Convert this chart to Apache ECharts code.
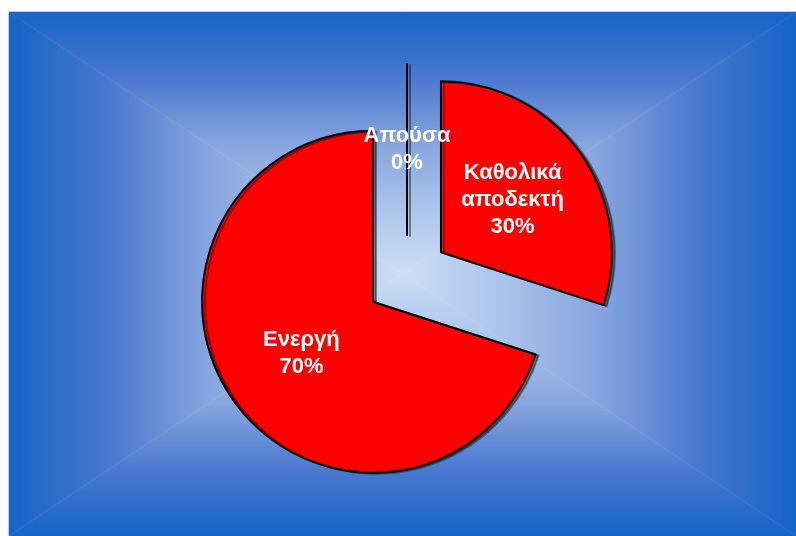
<!DOCTYPE html>
<html>
<head>
<meta charset="utf-8">
<script src="https://cdn.jsdelivr.net/npm/echarts@6/dist/echarts.min.js"></script>
<style>
  html, body { margin: 0; padding: 0; background: #ffffff; }
  #chart { width: 796px; height: 536px; }
</style>
</head>
<body>
<div id="chart"></div>
<script>
// Slice names and shares (percent)
var categories = ['Απούσα', 'Καθολικά\nαποδεκτή', 'Ενεργή'];
var values = [0, 30, 70];

var chart = echarts.init(document.getElementById('chart'), null, { renderer: 'canvas' });

// Backdrop: rectangular "path" gradient built from four triangles
var bx0 = 9, by0 = 12, bx1 = 796, by1 = 536;
var cx = (bx0 + bx1) / 2, cy = (by0 + by1) / 2;

function tri(points, x1, y1, x2, y2) {
  var fill = new echarts.graphic.LinearGradient(x1, y1, x2, y2, [
    { offset: 0, color: '#1565c8' },
    { offset: 0.25, color: '#4a78cf' },
    { offset: 0.5, color: '#86a4de' },
    { offset: 0.75, color: '#abc4ea' },
    { offset: 1, color: '#cbdef4' }
  ], true);
  return {
    type: 'polygon',
    silent: true,
    z: -10,
    shape: { points: points },
    style: { fill: fill, stroke: fill, lineWidth: 0.6 }
  };
}

var background = [
  tri([[bx0, by0], [bx1, by0], [cx, cy]], 0, by0, 0, cy),
  tri([[bx0, by1], [bx1, by1], [cx, cy]], 0, by1, 0, cy),
  tri([[bx0, by0], [bx0, by1], [cx, cy]], bx0, 0, cx, 0),
  tri([[bx1, by0], [bx1, by1], [cx, cy]], bx1, 0, cx, 0)
];

var data = categories.map(function (name, i) {
  return { name: name, value: values[i], selected: true };
});

var explode = 42;
var labelFont = 'bold 22px "Liberation Sans", Arial, sans-serif';

chart.setOption({
  animation: false,
  graphic: background,
  series: [{
    type: 'pie',
    center: [407, 277],
    radius: 171,
    startAngle: 90,
    clockwise: true,
    stillShowZeroSum: true,
    minAngle: 0,
    selectedMode: 'multiple',
    selectedOffset: explode,
    avoidLabelOverlap: false,
    data: data,
    itemStyle: {
      color: '#ff0000',
      borderColor: '#000000',
      borderWidth: 2,
      shadowColor: 'rgba(0,0,0,0.4)',
      shadowOffsetX: 3,
      shadowOffsetY: 1,
      shadowBlur: 0
    },
    select: {
      itemStyle: { color: '#ff0000', borderColor: '#000000', borderWidth: 2 }
    },
    emphasis: { disabled: true },
    label: {
      show: true,
      position: 'inside',
      formatter: function (p) { return p.name + '\n' + p.value + '%'; },
      color: '#ffffff',
      fontFamily: '"Liberation Sans", Arial, sans-serif',
      fontWeight: 'bold',
      fontSize: 22,
      lineHeight: 27,
      align: 'center'
    },
    labelLine: { show: false }
  }]
});

// ECharts skips inside labels of zero-value slices; place those from the pie's own layout
var pieData = chart.getModel().getSeriesByIndex(0).getData();
var extra = [];
pieData.each(function (idx) {
  if (pieData.get('value', idx) !== 0) return;
  var lay = pieData.getItemLayout(idx);
  var mid = (lay.startAngle + lay.endAngle) / 2;
  var dist = explode + (lay.r + (lay.r0 || 0)) / 2;
  extra.push({
    type: 'text',
    silent: true,
    z: 100,
    x: lay.cx + Math.cos(mid) * dist,
    y: lay.cy + Math.sin(mid) * dist,
    style: {
      text: pieData.getName(idx) + '\n' + pieData.get('value', idx) + '%',
      fill: '#ffffff',
      font: labelFont,
      lineHeight: 27,
      align: 'center',
      verticalAlign: 'middle'
    }
  });
});
chart.setOption({ graphic: background.concat(extra) });
</script>
</body>
</html>
